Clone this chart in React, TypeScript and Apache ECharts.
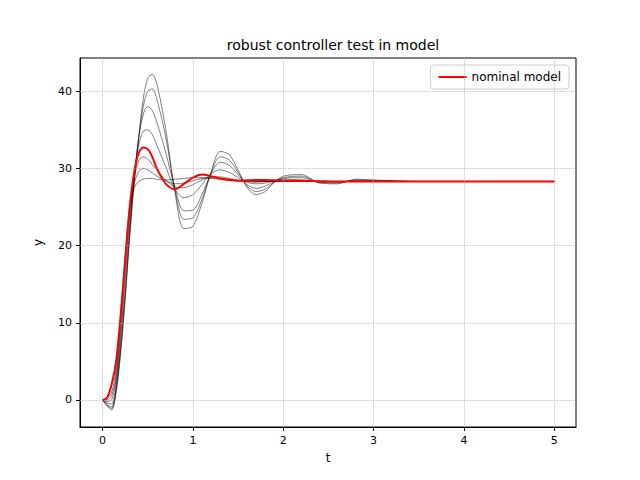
import { useEffect, useRef } from 'react';
import * as echarts from 'echarts';

const tValues = [0, 0.05, 0.1, 0.15, 0.2, 0.25, 0.3, 0.35, 0.4, 0.45, 0.5, 0.55, 0.6, 0.7, 0.8, 0.9, 1.0, 1.1, 1.2, 1.3, 1.4, 1.5, 1.6, 1.7, 1.8, 1.9, 2.0, 2.2, 2.4, 2.6, 2.8, 3.0, 3.5, 4, 5];

const uncertainRuns = [
  [0, -0.8, -1.3, 1, 6, 13, 21, 28, 34, 39, 41.7, 42.2, 41, 35, 27, 22.2, 22.5, 25.5, 29.5, 32.2, 31.8, 29.8, 27.5, 26.6, 27, 28.2, 29, 29.2, 28.1, 28.0, 28.6, 28.5, 28.3, 28.3, 28.3],
  [0, -0.7, -1.1, 1.2, 6.5, 13.5, 21.5, 28.5, 34, 38, 40, 40.3, 39, 34, 27.3, 23.4, 23.6, 26, 29.4, 31.5, 31.1, 29.5, 27.7, 27, 27.3, 28.2, 28.8, 29, 28.2, 28.1, 28.5, 28.45, 28.3, 28.3, 28.3],
  [0, -0.6, -0.9, 1.5, 7, 14, 22, 29, 34, 37, 38, 37.5, 36, 32, 27.5, 24.5, 24.6, 26.6, 29.3, 30.8, 30.4, 29.2, 27.9, 27.4, 27.7, 28.3, 28.7, 28.8, 28.2, 28.2, 28.4, 28.4, 28.3, 28.3, 28.3],
  [0, -0.4, -0.5, 2, 8, 15.5, 23, 29, 33, 34.8, 35, 34.4, 33, 30.2, 27.3, 26.2, 26.6, 27.9, 29.3, 29.8, 29.5, 28.8, 28.2, 28, 28.1, 28.4, 28.6, 28.5, 28.3, 28.3, 28.35, 28.3, 28.3, 28.3, 28.3],
  [0, -0.2, 0, 2.7, 9, 17, 24, 28.6, 31, 31.5, 31.2, 30.5, 29.8, 28.5, 27.6, 27.5, 27.9, 28.5, 28.9, 28.9, 28.7, 28.5, 28.3, 28.2, 28.3, 28.4, 28.4, 28.35, 28.3, 28.3, 28.3, 28.3, 28.3, 28.3, 28.3],
  [0, 0, 0.5, 3.2, 10, 18, 24.5, 28, 29.6, 30, 29.8, 29.4, 29, 28.4, 28, 28.1, 28.4, 28.7, 28.8, 28.7, 28.6, 28.4, 28.35, 28.3, 28.3, 28.3, 28.3, 28.3, 28.3, 28.3, 28.3, 28.3, 28.3, 28.3, 28.3],
  [0, 0.2, 1, 4, 11, 19, 25, 27.5, 28.3, 28.6, 28.7, 28.7, 28.6, 28.5, 28.6, 28.7, 28.8, 28.8, 28.7, 28.6, 28.5, 28.4, 28.4, 28.3, 28.3, 28.3, 28.3, 28.3, 28.3, 28.3, 28.3, 28.3, 28.3, 28.3, 28.3],
];

const nominalRun = [0, 0.3, 2, 5, 11, 18, 25, 29.5, 32, 32.7, 32.5, 31.5, 30, 28, 27.3, 28, 28.8, 29.2, 29, 28.7, 28.5, 28.4, 28.45, 28.5, 28.5, 28.45, 28.4, 28.4, 28.35, 28.3, 28.3, 28.3, 28.3, 28.3, 28.3];

const xTicks = [0, 1, 2, 3, 4, 5];
const yTicks = [0, 10, 20, 30, 40];

const font = 'DejaVu Sans';

export default function App() {
  const chartRef = useRef<HTMLDivElement>(null);

  useEffect(() => {
    if (!chartRef.current) return;
    const chart = echarts.init(chartRef.current, undefined, { renderer: 'svg' });

    const pair = (ys: number[]) => tValues.map((t, i) => [t, ys[i]]);

    const option: echarts.EChartsOption = {
      animation: false,
      title: {
        text: 'robust controller test in model',
        left: 328,
        top: 33,
        textAlign: 'center',
        textStyle: { fontFamily: font, fontSize: 14, fontWeight: 'normal', color: '#000' },
      },
      grid: { left: 80, right: 64, top: 58, bottom: 53, show: true, borderColor: '#000', borderWidth: 1 },
      legend: {
        data: [{ name: 'nominal model', icon: 'rect' }],
        right: 71,
        top: 65,
        padding: [6, 8],
        borderColor: '#ccc',
        borderWidth: 1,
        borderRadius: 3,
        itemWidth: 28,
        itemHeight: 2,
        textStyle: { fontFamily: font, fontSize: 12, color: '#000' },
      },
      xAxis: {
        type: 'value',
        min: -0.25,
        max: 5.24,
        name: 't',
        nameLocation: 'middle',
        nameGap: 25,
        nameTextStyle: { fontFamily: font, fontSize: 12, color: '#000' },
        axisLine: { show: true, onZero: false, lineStyle: { color: '#000' } },
        axisTick: { show: true, length: 4, customValues: xTicks, lineStyle: { color: '#000' } },
        axisLabel: { customValues: xTicks, fontFamily: font, fontSize: 11, color: '#000' },
        splitLine: { show: false },
      },
      yAxis: {
        type: 'value',
        min: -3.5,
        max: 44.3,
        name: 'y',
        nameLocation: 'middle',
        nameGap: 36,
        nameTextStyle: { fontFamily: font, fontSize: 12, color: '#000' },
        axisLine: { show: true, onZero: false, lineStyle: { color: '#000' } },
        axisTick: { show: true, length: 4, customValues: yTicks, lineStyle: { color: '#000' } },
        axisLabel: { customValues: yTicks, fontFamily: font, fontSize: 11, color: '#000' },
        splitLine: { show: false },
      },
      series: [
        ...uncertainRuns.map((run, i) => ({
          name: 'run' + i,
          type: 'line' as const,
          data: pair(run),
          smooth: 0.3,
          symbol: 'none',
          lineStyle: { color: '#000', width: 0.5 },
          z: 2,
        })),
        {
          name: 'nominal model',
          type: 'line',
          data: pair(nominalRun),
          smooth: 0.3,
          symbol: 'none',
          itemStyle: { color: '#ff0000' },
          lineStyle: { color: '#ff0000', width: 2 },
          z: 3,
          markLine: {
            silent: true,
            symbol: 'none',
            label: { show: false },
            lineStyle: { color: '#b0b0b0', type: 'dotted', width: 0.8 },
            data: [...xTicks.map((v) => ({ xAxis: v })), ...yTicks.map((v) => ({ yAxis: v }))],
          },
        },
      ],
    };

    chart.setOption(option);
    return () => chart.dispose();
  }, []);

  return <div ref={chartRef} style={{ width: 640, height: 480, margin: -8 }} />;
}
